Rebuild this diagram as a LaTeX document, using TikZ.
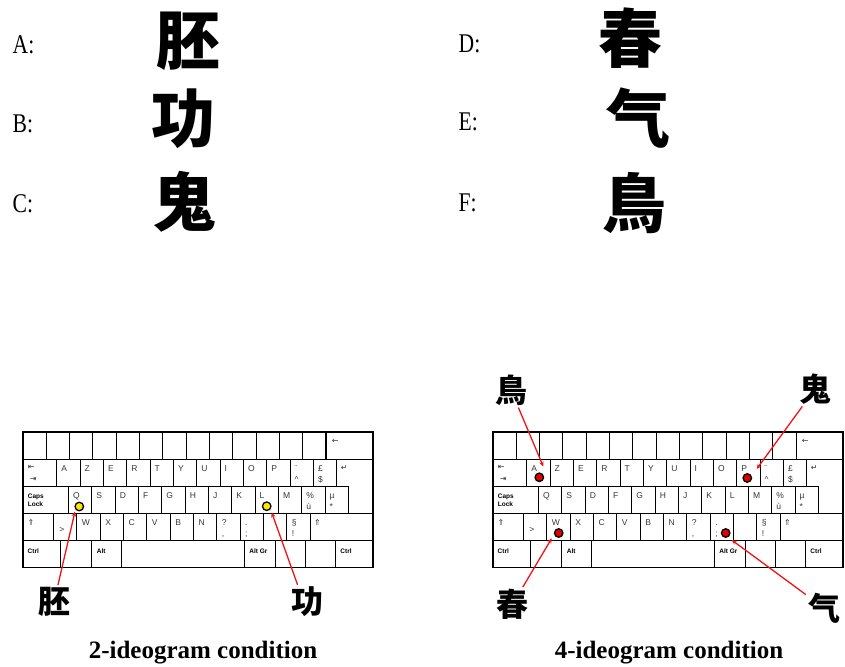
\documentclass[tikz,border=0pt]{standalone}
\usepackage{fontspec}
\setmainfont{Liberation Serif}
\newfontfamily\keyfont{Liberation Sans}
\newfontfamily\symfont{DejaVu Sans}
\newfontfamily\cjk{Noto Sans CJK SC}
\usetikzlibrary{arrows.meta}
\definecolor{arrowred}{RGB}{240,20,20}
\definecolor{dotred}{RGB}{225,0,0}
\definecolor{dotyellow}{RGB}{250,232,0}
\definecolor{keyink}{RGB}{55,55,55}
\tikzset{
  keybox/.style={draw=black, line width=1pt, fill=white},
  kbframe/.style={draw=black, line width=1.8pt},
  klab/.style={anchor=base west, inner sep=0pt, font=\keyfont\fontsize{8.5}{8.5}\selectfont, text=keyink},
  kbold/.style={anchor=base west, inner sep=0pt, font=\keyfont\bfseries\fontsize{6.5}{6.5}\selectfont, text=black},
  ksym/.style={anchor=base west, inner sep=0pt, font=\symfont\fontsize{8}{8}\selectfont, text=keyink},
  rowletter/.style={anchor=base west, inner sep=0pt, font=\fontsize{27}{27}\selectfont},
  bigchar/.style={inner sep=0pt, font=\cjk\bfseries\fontsize{64}{64}\selectfont},
  smallchar/.style={inner sep=2pt, font=\cjk\bfseries\fontsize{32}{32}\selectfont},
  caption/.style={anchor=base, inner sep=0pt, font=\bfseries\fontsize{25}{25}\selectfont},
  ydot/.style={circle, draw=black, line width=1.3pt, fill=dotyellow, minimum size=8.5pt, inner sep=0pt},
  rdot/.style={circle, draw=black, line width=1.3pt, fill=dotred, minimum size=8.5pt, inner sep=0pt},
  pointer/.style={draw=arrowred, line width=1.3pt, -{Stealth[length=5pt,width=4.5pt]}}
}
\newcommand\drawkeyboard[2]{%
\begin{scope}[shift={(#1,0)}]
  % row 1
  \foreach \i in {0,...,12} \draw[keybox] ({23.33*\i},432) rectangle ({23.33*(\i+1)},459.1);
  \draw[keybox] (303.3,432) rectangle (350,459.1);
  % row 2
  \draw[keybox] (0,459.1) rectangle (34,486.2);
  \foreach \i in {0,...,11} \draw[keybox] ({34+23.33*\i},459.1) rectangle ({34+23.33*(\i+1)},486.2);
  \draw[keybox] (314,459.1) -- (350,459.1) -- (350,513.3) -- (325.7,513.3) -- (325.7,486.2) -- (314,486.2) -- cycle;
  % row 3
  \draw[keybox] (0,486.2) rectangle (45.7,513.3);
  \foreach \i in {0,...,11} \draw[keybox] ({45.7+23.33*\i},486.2) rectangle ({45.7+23.33*(\i+1)},513.3);
  % row 4
  \draw[keybox] (0,513.3) rectangle (30.7,540.4);
  \foreach \i in {0,...,10} \draw[keybox] ({30.7+23.33*\i},513.3) rectangle ({30.7+23.33*(\i+1)},540.4);
  \draw[keybox] (287.3,513.3) rectangle (350,540.4);
  % row 5
  \foreach \a/\b in {0/38,38/68.3,68.3/99,99/221.3,221.3/252.3,252.3/282.3,282.3/312.3,312.3/350}
    \draw[keybox] (\a,540.4) rectangle (\b,567.5);
  \draw[kbframe] (0,432) rectangle (350,567.5);
  % labels
  \node[ksym] (#2bs) at (309,443) {←};
  \node[ksym] (#2tab1) at (5,469.5) {⇤};
  \node[ksym] (#2tab2) at (7,481) {⇥};
  \node[ksym] (#2ent) at (318,470.5) {↵};
  \foreach \t [count=\i from 0] in {A,Z,E,R,T,Y,U,I,O,P}
    \node[klab] (#2r2-\i) at ({34+23.33*\i+4.5},471.6) {\t};
  \node[klab] (#2r2-10a) at ({34+23.33*10+4.5},471.6) {¨};
  \node[klab] (#2r2-10b) at ({34+23.33*10+4.5},482.2) {\^{}};
  \node[klab] (#2r2-11a) at ({34+23.33*11+4.5},471.6) {£};
  \node[klab] (#2r2-11b) at ({34+23.33*11+4.5},482.2) {\$};
  \node[kbold] (#2caps1) at (5,498.5) {Caps};
  \node[kbold] (#2caps2) at (5,506.5) {Lock};
  \foreach \t [count=\i from 0] in {Q,S,D,F,G,H,J,K,L,M}
    \node[klab] (#2r3-\i) at ({45.7+23.33*\i+4.5},498.7) {\t};
  \node[klab] (#2r3-10a) at ({45.7+23.33*10+4.5},498.7) {\%};
  \node[klab] (#2r3-10b) at ({45.7+23.33*10+4.5},509.3) {ù};
  \node[klab] (#2r3-11a) at ({45.7+23.33*11+4.5},498.7) {µ};
  \node[klab] (#2r3-11b) at ({45.7+23.33*11+4.5},509.3) {*};
  \node[ksym] (#2sh1) at (4.6,525.5) {⇑};
  \node[ksym] (#2sh2) at (291.3,525.5) {⇑};
  \node[klab] (#2gt) at (36.5,532.5) {>};
  \foreach \t [count=\i from 1] in {W,X,C,V,B,N}
    \node[klab] (#2r4-\i) at ({30.7+23.33*\i+5},525.8) {\t};
  \foreach \a/\b [count=\i from 7] in {?/{,},./;,//:,§/!}{
    \node[klab] (#2r4-\i a) at ({30.7+23.33*\i+5},525.8) {\a};
    \node[klab] (#2r4-\i b) at ({30.7+23.33*\i+5},536.4) {\b};
  }
  \node[kbold] (#2ctrl1) at (4.8,553.3) {Ctrl};
  \node[kbold] (#2alt) at (74,553.3) {Alt};
  \node[kbold] (#2altgr) at (226.5,553.3) {Alt Gr};
  \node[kbold] (#2ctrl2) at (317.5,553.3) {Ctrl};
\end{scope}}
\begin{document}
\begin{tikzpicture}[x=1pt,y=-1pt]
\useasboundingbox[fill=white] (0,0) rectangle (845,666);
% top list
\node[rowletter] (la) at (12.5,53.3) {\scalebox{0.8}[1]{A:}};
\node[rowletter] (lb) at (12.5,132.5) {\scalebox{0.8}[1]{B:}};
\node[rowletter] (lc) at (12.5,212.5) {\scalebox{0.8}[1]{C:}};
\node[rowletter] (ld) at (458.5,53) {\scalebox{0.8}[1]{D:}};
\node[rowletter] (le) at (458.5,130.5) {\scalebox{0.8}[1]{E:}};
\node[rowletter] (lf) at (458.5,211.5) {\scalebox{0.8}[1]{F:}};
\node[bigchar] (ca) at (188.5,41) {胚};
\node[bigchar] (cb) at (183,118.5) {功};
\node[bigchar] (cc) at (184.5,201.5) {鬼};
\node[bigchar] (cd) at (630,38.5) {春};
\node[bigchar] (ce) at (638.5,118.5) {气};
\node[bigchar] (cf) at (634.5,203.5) {鳥};
% keyboards
\drawkeyboard{22.7}{L}
\drawkeyboard{492.7}{R}
% dots
\node[ydot] (dq) at (79.3,506.5) {};
\node[ydot] (dl) at (266.7,506.2) {};
\node[rdot] (da) at (539.3,477.3) {};
\node[rdot] (dp) at (747.3,478) {};
\node[rdot] (dw) at (558.7,533) {};
\node[rdot] (ds) at (725.7,533) {};
\coordinate (tq) at (75,511.5);
\coordinate (tl) at (271.7,512.5);
\coordinate (ta) at (543.3,466.5);
\coordinate (tp) at (756.7,469);
\coordinate (tw) at (551.7,538.3);
\coordinate (ts) at (731.7,540);
% labels
\node[smallchar] (s1) at (54,602) {胚};
\node[smallchar] (s2) at (307.5,602) {功};
\node[smallchar] (s3) at (511,390) {鳥};
\node[smallchar] (s4) at (815,389) {鬼};
\node[smallchar] (s5) at (512.5,604.5) {春};
\node[smallchar] (s6) at (824,608) {气};
\draw[pointer] (s1) -- (tq);
\draw[pointer] (s2.120) -- (tl);
\draw[pointer] (s3) -- (ta);
\draw[pointer] (s4) -- (tp);
\draw[pointer] (s5) -- (tw);
\draw[pointer] (s6) -- (ts);
% captions
\node[caption] (cap1) at (203,658.5) {2-ideogram condition};
\node[caption] (cap2) at (669,658.5) {4-ideogram condition};
\end{tikzpicture}
\end{document}
